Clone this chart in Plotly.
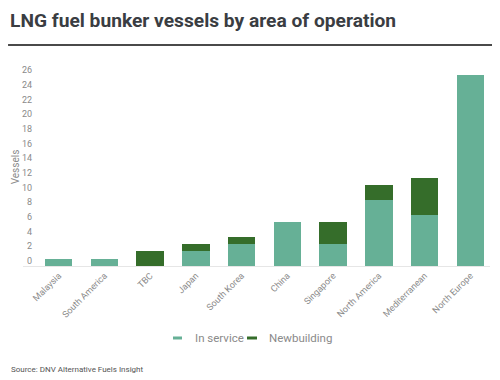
import plotly.graph_objects as go

areas = ["Malaysia", "South America", "TBC", "Japan", "South Korea", "China",
         "Singapore", "North America", "Mediterranean", "North Europe"]
in_service = [1, 1, 0, 2, 3, 6, 3, 9, 7, 26]
newbuilding = [0, 0, 2, 1, 1, 0, 3, 2, 5, 0]
y_ticks = list(range(0, 27, 2))
series_names = ["In service", "Newbuilding"]

C_SERV = "#66b096"
C_NEW = "#356d2a"
GRAY = "#8a8a8a"
FONT = "Roboto"

fig = go.Figure()
fig.add_trace(go.Bar(x=areas, y=in_service, name=series_names[0], marker_color=C_SERV,
                     marker_line_width=0, showlegend=False, width=0.6))
fig.add_trace(go.Bar(x=areas, y=newbuilding, name=series_names[1], marker_color=C_NEW,
                     marker_line_width=0, showlegend=False, width=0.6))

fig.update_layout(
    width=492, height=372,
    barmode="stack",
    paper_bgcolor="white", plot_bgcolor="white",
    margin=dict(l=15, r=10, t=60, b=114, autoexpand=False),
    font=dict(family=FONT, color=GRAY, size=9),
    title=dict(text="<b>LNG fuel bunker vessels by area of operation</b>",
               x=0, xanchor="left", y=0.9664, yanchor="middle", pad=dict(l=2, t=0),
               font=dict(family=FONT, size=19.2, color="#3a3d42")),
    showlegend=False,
)
fig.update_xaxes(range=[-0.78, 9.43], showgrid=False, showline=True, linecolor="#e6e6e6",
                 linewidth=1, tickangle=-45, ticks="", tickfont=dict(size=9, color=GRAY),
                 zeroline=False, automargin=False)
fig.update_yaxes(range=[0, 27], tickvals=y_ticks, showgrid=False, showline=False,
                 zeroline=False, ticks="", tickfont=dict(size=9, color=GRAY),
                 ticklabelshift=-5, ticklabelstandoff=-10, automargin=False,
                 title=dict(text="Vessels", font=dict(size=10, color=GRAY), standoff=0))

# title rule
fig.add_shape(type="line", xref="paper", yref="paper", x0=-0.032, x1=1.021,
              y0=1.116, y1=1.116, line=dict(color="#4a4a4a", width=2))

# legend (short line keys)
LEG_Y = -0.3636
for (k0, k1, tx), nm, col in zip(((0.3212, 0.3405, 0.364), (0.4797, 0.5011, 0.5225)),
                                  series_names, (C_SERV, C_NEW)):
    fig.add_shape(type="line", xref="paper", yref="paper", x0=k0, x1=k1,
                  y0=LEG_Y, y1=LEG_Y, line=dict(color=col, width=3))
    fig.add_annotation(text=nm, xref="paper", yref="paper", x=tx, y=LEG_Y,
                       xanchor="left", yanchor="middle", showarrow=False,
                       font=dict(size=11.5, color=GRAY))

fig.add_annotation(text="Source: DNV Alternative Fuels Insight", xref="paper", yref="paper",
                   x=-0.03, y=-0.525, xanchor="left", yanchor="middle", showarrow=False,
                   font=dict(size=8, color="#555555"))

fig.write_html("out.html")
